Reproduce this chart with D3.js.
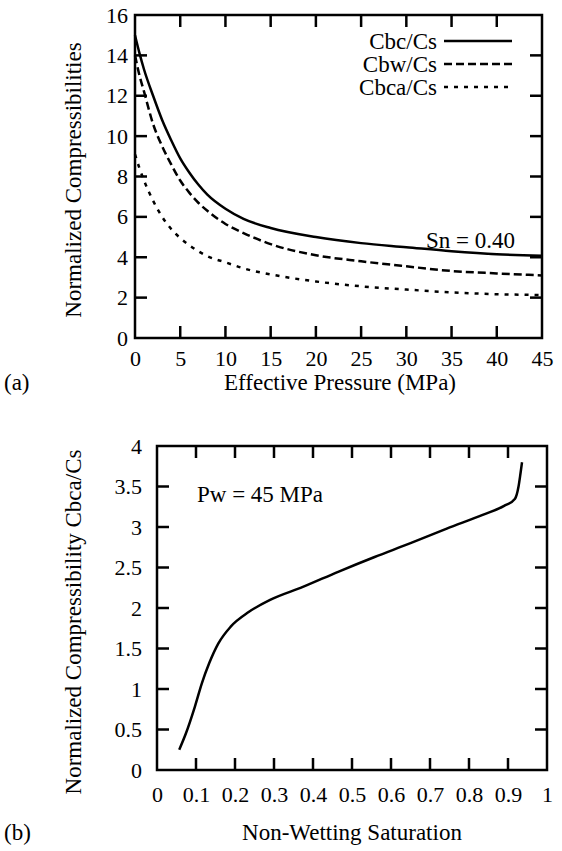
<!DOCTYPE html>
<html>
<head>
<meta charset="utf-8">
<script src="https://cdn.jsdelivr.net/npm/d3@7"></script>
<style>
  body { margin: 0; background: #fff; }
  svg { display: block; }
  text { font-family: "Liberation Serif", "DejaVu Serif", "Times New Roman", serif; }
</style>
</head>
<body>
<div id="chart"></div>
<script>
// panel (a): effective pressure (MPa) vs normalized compressibilities
const pressure = [0, 0.5, 1, 2, 3, 4, 5, 6, 7, 8, 10, 12, 15, 20, 25, 30, 35, 40, 45];
const cbcCs  = [15.0, 14.1, 13.3, 12.0, 10.8, 9.8, 8.9, 8.2, 7.6, 7.1, 6.4, 5.9, 5.45, 5.0, 4.7, 4.5, 4.3, 4.15, 4.08];
const cbwCs  = [14.0, 13.0, 12.2, 10.6, 9.5, 8.6, 7.8, 7.2, 6.7, 6.3, 5.65, 5.2, 4.65, 4.1, 3.8, 3.55, 3.32, 3.2, 3.1];
const cbcaCs = [9.1, 8.4, 7.8, 6.8, 6.0, 5.4, 4.95, 4.6, 4.3, 4.05, 3.75, 3.45, 3.15, 2.8, 2.56, 2.4, 2.26, 2.17, 2.13];
const seriesNames = ["Cbc/Cs", "Cbw/Cs", "Cbca/Cs"];
const xTicksA = [0, 5, 10, 15, 20, 25, 30, 35, 40, 45];
const yTicksA = [0, 2, 4, 6, 8, 10, 12, 14, 16];

// panel (b): non-wetting saturation vs Cbca/Cs at Pw = 45 MPa
const saturation = [0.057, 0.074, 0.097, 0.115, 0.134, 0.157, 0.189, 0.235, 0.29, 0.374, 0.466, 0.558, 0.65, 0.743, 0.835, 0.89, 0.918, 0.927, 0.932, 0.936];
const cbcaSat    = [0.25, 0.45, 0.78, 1.07, 1.32, 1.56, 1.77, 1.95, 2.10, 2.26, 2.45, 2.63, 2.80, 2.98, 3.15, 3.26, 3.35, 3.5, 3.66, 3.8];
const xTicksB = [0, 0.1, 0.2, 0.3, 0.4, 0.5, 0.6, 0.7, 0.8, 0.9, 1];
const yTicksB = [0, 0.5, 1, 1.5, 2, 2.5, 3, 3.5, 4];

const width = 562, height = 851;
const font = "Liberation Serif, DejaVu Serif, Times New Roman, serif";
const fs = 23;      // titles, legend, notes
const tfs = 22;     // tick labels

const svg = d3.select("#chart").append("svg")
  .attr("width", width)
  .attr("height", height)
  .attr("font-family", font);

const dashes = ["none", "8,4", "4,6"];

function label(x, y, txt, anchor, size) {
  return svg.append("text")
    .attr("x", x).attr("y", y)
    .attr("text-anchor", anchor || "start")
    .attr("font-family", font)
    .attr("font-size", size || fs)
    .attr("fill", "black")
    .text(txt);
}

function panel(box, xDomain, yDomain, xTicks, yTicks, xPad, yPad) {
  const x = d3.scaleLinear().domain(xDomain).range([box.left, box.right]);
  const y = d3.scaleLinear().domain(yDomain).range([box.bottom, box.top]);
  const tick = 12;

  // frame
  svg.append("rect")
    .attr("x", box.left).attr("y", box.top)
    .attr("width", box.right - box.left).attr("height", box.bottom - box.top)
    .attr("fill", "none").attr("stroke", "black").attr("stroke-width", 2.5);

  const innerX = v => v !== xDomain[0] && v !== xDomain[1];
  const innerY = v => v !== yDomain[0] && v !== yDomain[1];

  // bottom axis labels
  svg.append("g")
    .attr("transform", `translate(0,${box.bottom})`)
    .call(d3.axisBottom(x).tickValues(xTicks).tickSize(0).tickPadding(xPad).tickFormat(d3.format("~g")))
    .call(g => g.select(".domain").remove())
    .call(g => g.selectAll("text").attr("font-size", tfs).attr("font-family", font).attr("fill", "black"));

  // left axis labels
  svg.append("g")
    .attr("transform", `translate(${box.left},0)`)
    .call(d3.axisLeft(y).tickValues(yTicks).tickSize(0).tickPadding(yPad).tickFormat(d3.format("~g")))
    .call(g => g.select(".domain").remove())
    .call(g => g.selectAll("text").attr("font-size", tfs).attr("font-family", font).attr("fill", "black"));

  // inward tick marks on all four sides
  const t = svg.append("g").attr("stroke", "black").attr("stroke-width", 2.5);
  xTicks.filter(innerX).forEach(v => {
    t.append("line").attr("x1", x(v)).attr("x2", x(v)).attr("y1", box.bottom).attr("y2", box.bottom - tick);
    t.append("line").attr("x1", x(v)).attr("x2", x(v)).attr("y1", box.top).attr("y2", box.top + tick);
  });
  yTicks.filter(innerY).forEach(v => {
    t.append("line").attr("x1", box.left).attr("x2", box.left + tick).attr("y1", y(v)).attr("y2", y(v));
    t.append("line").attr("x1", box.right).attr("x2", box.right - tick).attr("y1", y(v)).attr("y2", y(v));
  });

  return { x, y };
}

// ---------- panel (a) ----------
const boxA = { left: 135, right: 542, top: 15, bottom: 338 };
const a = panel(boxA, [0, 45], [0, 16], xTicksA, yTicksA, 12, 7);

const seriesA = [cbcCs, cbwCs, cbcaCs];
const lineA = d3.line()
  .x(d => a.x(d[0]))
  .y(d => a.y(d[1]))
  .curve(d3.curveMonotoneX);

seriesA.forEach((vals, i) => {
  svg.append("path")
    .datum(pressure.map((p, j) => [p, vals[j]]))
    .attr("d", lineA)
    .attr("fill", "none")
    .attr("stroke", "black")
    .attr("stroke-width", 2.5)
    .attr("stroke-dasharray", dashes[i]);
});

// legend
seriesNames.forEach((name, i) => {
  const cy = 41 + i * 23;
  label(437, cy + 8, name, "end");
  svg.append("line")
    .attr("x1", 444).attr("x2", 512)
    .attr("y1", cy).attr("y2", cy)
    .attr("stroke", "black").attr("stroke-width", 2.5)
    .attr("stroke-dasharray", dashes[i]);
});

label(515, 248, "Sn = 0.40", "end");
label(340, 390, "Effective Pressure (MPa)", "middle");
label(4, 390, "(a)");

svg.append("text")
  .attr("transform", "rotate(-90)")
  .attr("x", -180).attr("y", 81)
  .attr("text-anchor", "middle")
  .attr("font-family", font)
  .attr("font-size", fs)
  .text("Normalized Compressibilities");

// ---------- panel (b) ----------
const boxB = { left: 157, right: 547, top: 446, bottom: 770 };
const b = panel(boxB, [0, 1], [0, 4], xTicksB, yTicksB, 16, 15);

const lineB = d3.line()
  .x(d => b.x(d))
  .y((d, i) => b.y(cbcaSat[i]))
  .curve(d3.curveMonotoneX);

svg.append("path")
  .datum(saturation)
  .attr("d", lineB)
  .attr("fill", "none")
  .attr("stroke", "black")
  .attr("stroke-width", 2.5);

label(197, 502, "Pw = 45 MPa");
label(352, 840, "Non-Wetting Saturation", "middle");
label(4, 840, "(b)");

svg.append("text")
  .attr("transform", "rotate(-90)")
  .attr("x", -622).attr("y", 81)
  .attr("text-anchor", "middle")
  .attr("font-family", font)
  .attr("font-size", fs)
  .text("Normalized Compressibility Cbca/Cs");
</script>
</body>
</html>
